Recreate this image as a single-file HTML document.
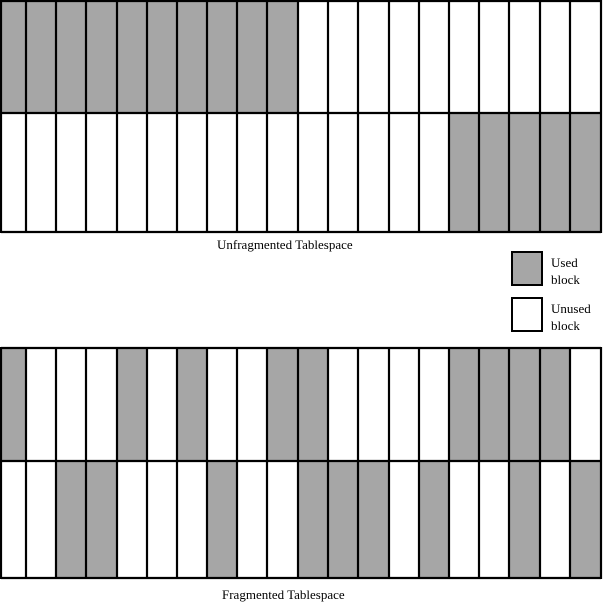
<!DOCTYPE html>
<html><head><style>body{margin:0;background:#fff}svg{display:block}</style></head><body>
<svg width="605" height="616" xmlns="http://www.w3.org/2000/svg" font-family="Liberation Serif, serif" font-size="13">
<g fill="#a6a6a6">
<rect x="1" y="1" width="297" height="112"/>
<rect x="449" y="113" width="152" height="119"/>
<rect x="1" y="348" width="25" height="113"/>
<rect x="117" y="348" width="30" height="113"/>
<rect x="177" y="348" width="30" height="113"/>
<rect x="267" y="348" width="61" height="113"/>
<rect x="449" y="348" width="121" height="113"/>
<rect x="56" y="461" width="61" height="117"/>
<rect x="207" y="461" width="30" height="117"/>
<rect x="298" y="461" width="91" height="117"/>
<rect x="419" y="461" width="30" height="117"/>
<rect x="509" y="461" width="31" height="117"/>
<rect x="570" y="461" width="31" height="117"/>
</g>
<g stroke="#000" stroke-width="2.2" fill="none">
<path d="M1 1H601M1 113H601M1 232H601M1 348H601M1 461H601M1 578H601"/>
<path d="M1 0V233M26 0V233M56 0V233M86 0V233M117 0V233M147 0V233M177 0V233M207 0V233M237 0V233M267 0V233M298 0V233M328 0V233M358 0V233M389 0V233M419 0V233M449 0V233M479 0V233M509 0V233M540 0V233M570 0V233M601 0V233"/>
<path d="M1 347V579M26 347V579M56 347V579M86 347V579M117 347V579M147 347V579M177 347V579M207 347V579M237 347V579M267 347V579M298 347V579M328 347V579M358 347V579M389 347V579M419 347V579M449 347V579M479 347V579M509 347V579M540 347V579M570 347V579M601 347V579"/>
</g>
<text x="217" y="249">Unfragmented Tablespace</text>
<text x="222" y="599">Fragmented Tablespace</text>
<rect x="512" y="252" width="30" height="33" fill="#a6a6a6" stroke="#000" stroke-width="2"/>
<rect x="512" y="298" width="30" height="33" fill="#fff" stroke="#000" stroke-width="2"/>
<text x="551" y="267">Used</text><text x="551" y="284">block</text>
<text x="551" y="313">Unused</text><text x="551" y="330">block</text>
</svg>
</body></html>
